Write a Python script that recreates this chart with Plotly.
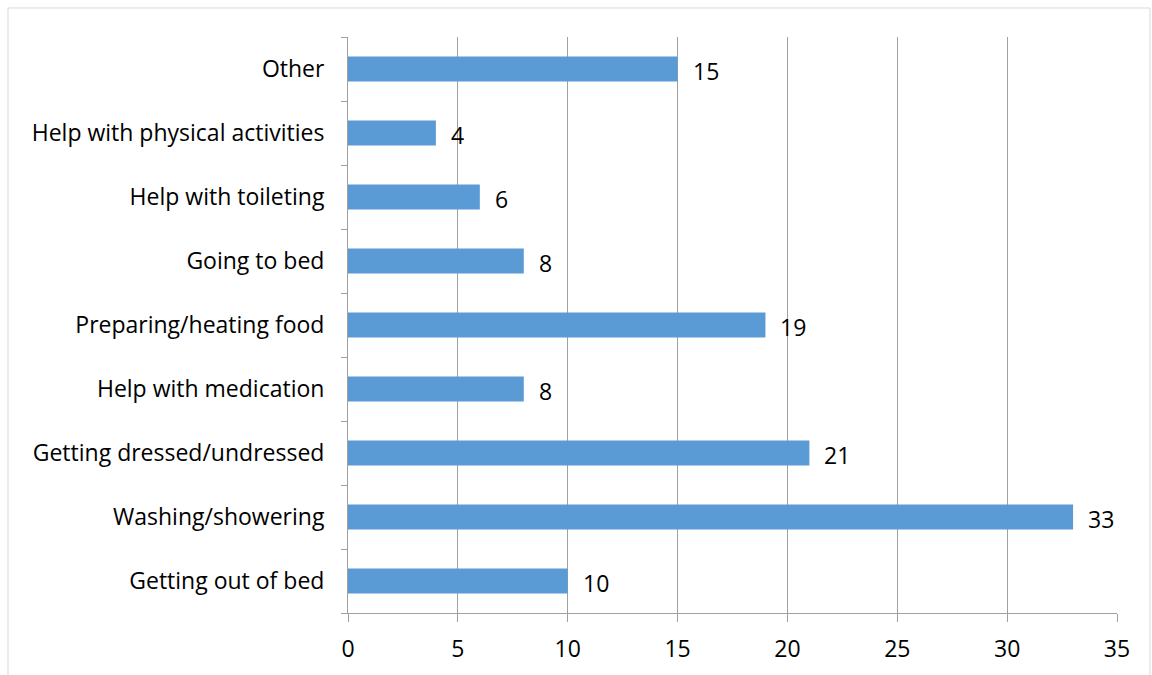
import plotly.graph_objects as go

categories = ["Getting out of bed", "Washing/showering", "Getting dressed/undressed",
              "Help with medication", "Preparing/heating food", "Going to bed",
              "Help with toileting", "Help with physical activities", "Other"]
values = [10, 33, 21, 8, 19, 8, 6, 4, 15]
x_ticks = [0, 5, 10, 15, 20, 25, 30, 35]

FONT = "Open Sans"
FS = 23

fig = go.Figure()
fig.add_trace(go.Bar(
    x=values, y=categories, orientation="h",
    marker=dict(color="#5B9BD5", line=dict(width=0)),
    width=0.39, hoverinfo="x+y",
))

for c, v in zip(categories, values):
    fig.add_annotation(x=v, y=c, text=str(v), showarrow=False,
                       xanchor="left", xshift=13, yshift=-2,
                       font=dict(family=FONT, size=FS, color="#000000"))

fig.update_layout(
    width=1152, height=675,
    margin=dict(l=348, r=35, t=37, b=62),
    paper_bgcolor="white", plot_bgcolor="white",
    showlegend=False,
    font=dict(family=FONT, size=FS, color="#000000"),
    bargap=0.61,
    shapes=[dict(type="rect", xref="paper", yref="paper",
                 x0=-340/769, x1=(1150 - 348)/769, y0=-0.2, y1=1 + 29/575.5,
                 line=dict(color="#D9D9D9", width=1), layer="below")],
)
fig.update_xaxes(
    range=[0, 35], tickvals=x_ticks, ticktext=[str(t) for t in x_ticks],
    showgrid=True, gridcolor="#A0A0A0", gridwidth=1,
    showline=True, linecolor="#A0A0A0", linewidth=1,
    ticks="outside", ticklen=8, tickcolor="#A0A0A0",
    zeroline=False, ticklabelstandoff=7,
    tickfont=dict(family=FONT, size=FS, color="#000000"),
    fixedrange=True,
)
fig.update_yaxes(
    categoryorder="array", categoryarray=categories,
    showline=True, linecolor="#A0A0A0", linewidth=1,
    ticks="outside", ticklen=6, tickcolor="#A0A0A0", tickson="boundaries",
    showgrid=False, ticklabelstandoff=18,
    tickfont=dict(family=FONT, size=FS, color="#000000"),
    fixedrange=True,
)

fig.write_html("out.html")
